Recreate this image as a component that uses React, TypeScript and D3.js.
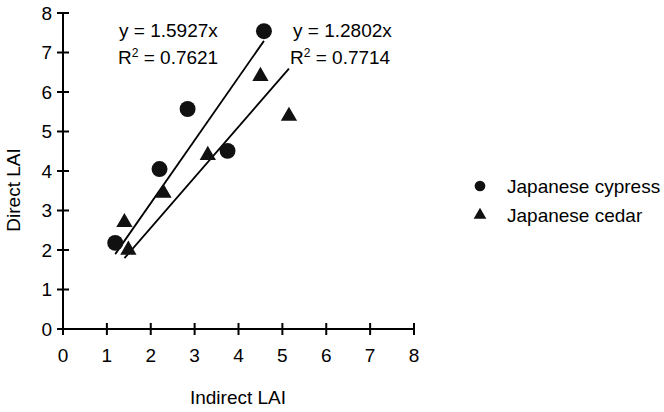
import React from 'react';
import * as d3 from 'd3';

// Japanese cypress (circles)
const cypressX = [1.19, 2.2, 2.84, 3.75, 4.58];
const cypressY = [2.18, 4.05, 5.57, 4.51, 7.54];
// Japanese cedar (triangles)
const cedarX = [1.4, 1.49, 2.29, 3.3, 4.5, 5.15];
const cedarY = [2.7, 2.0, 3.44, 4.4, 6.4, 5.39];

const cypressSlope = 1.5927;
const cedarSlope = 1.2802;
const cypressR2 = '0.7621';
const cedarR2 = '0.7714';

const xTicks = [0, 1, 2, 3, 4, 5, 6, 7, 8];
const yTicks = [0, 1, 2, 3, 4, 5, 6, 7, 8];

const seriesNames = ['Japanese cypress', 'Japanese cedar'];

const W = 664, H = 412;
const FONT = '"Liberation Sans", Arial, sans-serif';

export default function App() {
  const x = d3.scaleLinear().domain([0, 8]).range([63, 414]);
  const y = d3.scaleLinear().domain([0, 8]).range([329, 13]);

  const circle = d3.symbol().type(d3.symbolCircle).size(200)();
  const tri = d3.symbol().type(d3.symbolTriangle).size(115)();

  const line = d3.line<number>().x((d) => x(d[0])).y((d) => y(d[1]));
  // trendlines through origin, drawn over each series' x range
  const cypLine = line([[d3.min(cypressX)!, cypressSlope * d3.min(cypressX)!], [d3.max(cypressX)!, cypressSlope * d3.max(cypressX)!]] as any);
  const cedLine = line([[d3.min(cedarX)!, cedarSlope * d3.min(cedarX)!], [d3.max(cedarX)!, cedarSlope * d3.max(cedarX)!]] as any);

  const fs = 19;

  return (
    <svg width={W} height={H} style={{ position: 'absolute', left: 0, top: 0, background: '#fff' }}
      fontFamily={FONT}>
      <rect width={W} height={H} fill="#fff" />
      {/* axes */}
      <line x1={x(0)} x2={x(0)} y1={y(8)} y2={y(0)} stroke="#000" strokeWidth={2} />
      <line x1={x(0)} x2={x(8)} y1={y(0)} y2={y(0)} stroke="#000" strokeWidth={2} />
      {yTicks.map((t) => (
        <g key={'y' + t}>
          <line x1={x(0) - 6} x2={x(0) + 6} y1={y(t)} y2={y(t)} stroke="#000" strokeWidth={2} />
          <text x={x(0) - 11} y={y(t)} dy="0.35em" textAnchor="end" fontSize={fs}>{t}</text>
        </g>
      ))}
      {xTicks.map((t) => (
        <g key={'x' + t}>
          <line x1={x(t)} x2={x(t)} y1={y(0) - 6} y2={y(0) + 6} stroke="#000" strokeWidth={2} />
          <text x={x(t)} y={y(0) + 26} dy="0.35em" textAnchor="middle" fontSize={fs}>{t}</text>
        </g>
      ))}
      <text x={238} y={404} textAnchor="middle" fontSize={fs}>Indirect LAI</text>
      <text transform={`translate(20,${190}) rotate(-90)`} textAnchor="middle" fontSize={fs}>Direct LAI</text>

      {/* trendlines */}
      <path d={cypLine!} stroke="#000" strokeWidth={1.8} fill="none" />
      <path d={cedLine!} stroke="#000" strokeWidth={1.8} fill="none" />

      {/* points */}
      {cypressX.map((v, i) => (
        <path key={'c' + i} d={circle!} transform={`translate(${x(v)},${y(cypressY[i])})`} fill="#111" />
      ))}
      {cedarX.map((v, i) => (
        <path key={'t' + i} d={tri!} transform={`translate(${x(v)},${y(cedarY[i])})`} fill="#111" />
      ))}

      {/* equations */}
      <text x={119} y={37} fontSize={fs}>y = {cypressSlope}x</text>
      <text x={118} y={64} fontSize={fs}>R<tspan dy={-7} fontSize={12}>2</tspan><tspan dy={7}> = {cypressR2}</tspan></text>
      <text x={293} y={37} fontSize={fs}>y = {cedarSlope}x</text>
      <text x={290} y={64} fontSize={fs}>R<tspan dy={-7} fontSize={12}>2</tspan><tspan dy={7}> = {cedarR2}</tspan></text>

      {/* legend */}
      <path d={d3.symbol().type(d3.symbolCircle).size(90)()!} transform="translate(480,186)" fill="#111" />
      <text x={507} y={186} dy="0.35em" fontSize={fs}>{seriesNames[0]}</text>
      <path d={d3.symbol().type(d3.symbolTriangle).size(70)()!} transform="translate(480,215)" fill="#111" />
      <text x={507} y={215} dy="0.35em" fontSize={fs}>{seriesNames[1]}</text>
    </svg>
  );
}
